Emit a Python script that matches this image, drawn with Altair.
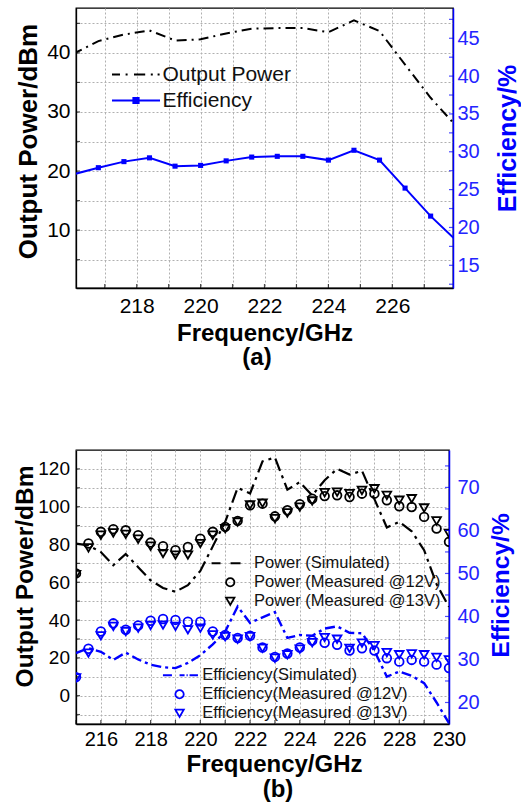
import altair as alt
import pandas as pd

FONT = "Liberation Sans"
BLUE = "#0000ff"
LBLUE = "#2424ff"
GRID = "#b0b0b0"

# ---------------- panel (a) data ----------------
a_freq = [216.0, 216.8, 217.6, 218.4, 219.2, 220.0, 220.8, 221.6, 222.4, 223.2,
          224.0, 224.8, 225.6, 226.4, 227.2, 228.0]
a_power = [39.8, 42.0, 43.1, 43.8, 42.1, 42.3, 43.3, 44.1, 44.2, 44.2,
           43.5, 45.5, 43.7, 38.0, 32.4, 27.6]
a_eff = [27.0, 27.9, 28.7, 29.2, 28.1, 28.2, 28.8, 29.3, 29.4, 29.4,
         28.9, 30.2, 28.9, 25.2, 21.5, 18.3]
a_series = ["Output Power", "Efficiency"]
a_xticks = [217, 218, 219, 220, 221, 222, 223, 224, 225, 226, 227]
a_yticks = [5, 10, 15, 20, 25, 30, 35, 40, 45]
a_rlabels = [15, 20, 25, 30, 35, 40, 45]
a_rticks = [12.5, 15, 17.5, 20, 22.5, 25, 27.5, 30, 32.5, 35, 37.5, 40, 42.5, 45, 47.5]

# ---------------- panel (b) data ----------------
b_freq = [215.0, 215.5, 216.0, 216.5, 217.0, 217.5, 218.0, 218.5, 219.0, 219.5,
          220.0, 220.5, 221.0, 221.5, 222.0, 222.5, 223.0, 223.5, 224.0, 224.5,
          225.0, 225.5, 226.0, 226.5, 227.0, 227.5, 228.0, 228.5, 229.0, 229.5, 230.0]
b_pow_sim = [80.5, 79.5, 76.0, 69.0, 75.0, 68.0, 61.0, 57.0, 55.0, 58.5,
             66.0, 79.0, 92.0, 110.0, 107.0, 124.0, 126.0, 109.0, 113.0, 106.0,
             114.0, 120.0, 117.0, 119.0, 104.0, 89.0, 92.0, 87.0, 77.0, 59.0, 47.0]
b_pow_12 = [64.7, 80.5, 86.7, 88.1, 87.5, 84.9, 81.0, 79.1, 77.0, 78.7,
            83.1, 86.7, 89.3, 92.5, 100.7, 101.6, 94.9, 98.1, 101.3, 104.2,
            105.6, 106.0, 105.1, 106.9, 106.9, 103.4, 100.2, 99.8, 94.6, 88.4, 81.4]
b_pow_13 = [64.0, 78.2, 84.9, 86.1, 85.4, 82.8, 79.1, 75.2, 74.4, 74.4,
            80.5, 84.9, 88.4, 91.9, 100.9, 101.9, 93.7, 96.7, 99.8, 103.0,
            107.4, 107.7, 106.9, 108.6, 109.5, 106.0, 103.4, 104.2, 99.3, 92.5, 85.8]
b_eff_sim = [31.5, 32.6, 31.8, 29.9, 31.6, 30.0, 28.8, 28.2, 28.0, 29.2,
             31.0, 33.5, 36.5, 42.3, 38.5, 39.8, 41.0, 35.0, 35.7, 35.5,
             37.2, 37.7, 36.2, 36.1, 32.0, 26.0, 27.2, 26.2, 24.5, 20.0, 15.2]
b_eff_12 = [25.9, 32.5, 36.5, 38.4, 36.9, 37.9, 39.0, 39.4, 39.2, 38.8,
            38.8, 36.5, 35.7, 35.0, 35.5, 32.8, 30.6, 31.4, 32.8, 34.4,
            33.9, 33.4, 32.1, 32.6, 32.1, 30.3, 29.5, 29.9, 29.5, 28.8, 28.0]
b_eff_13 = [25.7, 31.5, 35.5, 37.7, 36.5, 37.3, 37.9, 38.0, 37.7, 36.9,
            37.3, 35.7, 35.3, 34.7, 35.3, 32.6, 30.3, 31.1, 32.4, 33.9,
            35.1, 34.7, 32.6, 33.8, 33.2, 31.6, 31.1, 31.3, 31.1, 30.5, 29.9]
b_pow_names = ["Power (Simulated)", "Power (Measured @12V)", "Power (Measured @13V)"]
b_eff_names = ["Efficiency(Simulated)", "Efficiency(Measured @12V)", "Efficiency(Measured @13V)"]
b_xticks = [215, 216, 217, 218, 219, 220, 221, 222, 223, 224, 225, 226, 227, 228, 229, 230]
b_yticks = [-10, 0, 10, 20, 30, 40, 50, 60, 70, 80, 90, 100, 110, 120]
b_rlabels = [20, 30, 40, 50, 60, 70]
b_rticks = [20, 25, 30, 35, 40, 45, 50, 55, 60, 65, 70, 75]

# ---------------- layout constants ----------------
W_A, H_A = 377, 280
W_B, H_B = 373, 274
TICK = 4

# legend sample paths (unit = sqrt(size)/2 px)
A_POW_PATH = "M-6,0H-4M-2.6,0H-2.1M-0.5,0H2.3M3.7,0H4.2M5.4,0H5.9"
A_EFF_PATH = "M-6,0H6M-0.65,-0.65H0.65V0.65H-0.65Z"
B_POW_SIM_PATH = "M-4.47,0H-2.32M0.07,0H2.46"
B_EFF_SIM_PATH = "M-3.97,0H-1.82M0,0H1.2M1.67,0H1.95M2.39,0H4.4"


def xaxis(values, fs, lpad, tpad, title_x=None):
    kw = dict(values=values, labelExpr="datum.value % 2 === 0 ? datum.label : ''",
              title="Frequency/GHz", grid=True, gridColor=GRID, gridDash=[2, 2], gridWidth=1,
              ticks=False, tickSize=0, labelPadding=lpad, titlePadding=tpad,
              labelFontSize=fs, titleFontSize=24, titleFontWeight="bold",
              labelColor="black", titleColor="black", domainColor="black", domainWidth=1.3,
              labelFlush=False, labelOverlap=False)
    if title_x is not None:
        kw["titleX"] = title_x
    return alt.Axis(**kw)


# ================= panel (a) =================
df_a = pd.DataFrame({"freq": a_freq, "power": a_power, "eff": a_eff})
xa = dict(scale=alt.Scale(domain=[216.1, 227.9], nice=False, zero=False),
          axis=xaxis(a_xticks, 21, 7, 5))
ya_scale = alt.Scale(domain=[0.2, 47.6], nice=False, zero=False)
ya_axis = alt.Axis(values=a_yticks, labelExpr="datum.value % 10 === 0 ? datum.label : ''",
                   title="Output Power/dBm", grid=True, gridColor=GRID, gridDash=[2, 2],
                   ticks=False, tickSize=0, labelPadding=6, titlePadding=5,
                   labelFontSize=21, titleFontSize=26, titleFontWeight="bold", titleY=133,
                   labelColor="black", titleColor="black", domainColor="black", domainWidth=1.3,
                   labelFlush=False, labelOverlap=False)
yra_scale = alt.Scale(domain=[12, 49], nice=False, zero=False)
yra_axis = alt.Axis(orient="right", values=a_rlabels, title="Efficiency/%", grid=False,
                    ticks=False, tickSize=0, labelPadding=4, titlePadding=16,
                    titleAngle=270, titleBaseline="top", titleY=130,
                    labelFontSize=20, titleFontSize=25, titleFontWeight="bold",
                    labelColor=LBLUE, titleColor=BLUE, domainColor=BLUE, domainWidth=1.5,
                    labelFlush=False, labelOverlap=False)

pow_a = alt.Chart(df_a).mark_line(color="black", strokeWidth=2, strokeDash=[10, 5, 2, 5], clip=True).encode(
    x=alt.X("freq:Q", **xa), y=alt.Y("power:Q", scale=ya_scale, axis=ya_axis))
tick_a_bottom = alt.Chart(pd.DataFrame({"freq": a_xticks})).mark_tick(
    color="black", thickness=1.2, size=TICK).encode(
    x=alt.X("freq:Q", **xa), y=alt.value(H_A - TICK / 2))
tick_a_left = alt.Chart(pd.DataFrame({"power": a_yticks})).mark_tick(
    color="black", thickness=1.2, size=TICK).encode(
    y=alt.Y("power:Q", scale=ya_scale, axis=ya_axis), x=alt.value(TICK / 2))

eff_a = alt.Chart(df_a).mark_line(color=BLUE, strokeWidth=2, clip=True).encode(
    x=alt.X("freq:Q", **xa), y=alt.Y("eff:Q", scale=yra_scale, axis=yra_axis))
eff_a_pts = alt.Chart(df_a).mark_square(color=BLUE, size=26, filled=True, opacity=1, clip=True).encode(
    x=alt.X("freq:Q", **xa), y=alt.Y("eff:Q", scale=yra_scale, axis=yra_axis))
tick_a_right = alt.Chart(pd.DataFrame({"eff": a_rticks})).mark_tick(
    color=BLUE, thickness=1.2, size=TICK).encode(
    y=alt.Y("eff:Q", scale=yra_scale, axis=yra_axis), x=alt.value(W_A - TICK / 2))

leg_a = alt.Legend(title=None, orient="none", legendX=49.5, legendY=56, padding=0,
                   symbolSize=64, symbolStrokeWidth=2, labelFontSize=21, labelFont=FONT,
                   labelColor="#111", labelOffset=16, rowPadding=4, labelLimit=400)
legend_a = alt.Chart(pd.DataFrame({"series": a_series})).transform_filter("false").mark_point(
    filled=True, size=64, strokeWidth=2, opacity=1).encode(
    shape=alt.Shape("series:N", scale=alt.Scale(domain=a_series, range=[A_POW_PATH, A_EFF_PATH]), legend=leg_a),
    fill=alt.Fill("series:N", scale=alt.Scale(domain=a_series, range=["black", BLUE]), legend=leg_a),
    stroke=alt.Stroke("series:N", scale=alt.Scale(domain=a_series, range=["black", BLUE]), legend=leg_a))

panel_a = alt.layer(
    alt.layer(pow_a, tick_a_bottom, tick_a_left),
    alt.layer(eff_a, eff_a_pts, tick_a_right, legend_a),
).resolve_scale(y="independent").properties(
    width=W_A, height=H_A,
    title=alt.Title("(a)", orient="bottom", fontSize=24, fontWeight="bold", offset=1,
                    frame="group", anchor="middle", dx=-7.5, color="black", font=FONT))

# ================= panel (b) =================
df_bs = pd.DataFrame({"freq": b_freq, "psim": b_pow_sim, "esim": b_eff_sim})
df_bp = pd.DataFrame({"freq": b_freq * 2, "val": b_pow_12 + b_pow_13,
                      "series": [b_pow_names[1]] * len(b_freq) + [b_pow_names[2]] * len(b_freq)})
df_be = pd.DataFrame({"freq": b_freq * 2, "val": b_eff_12 + b_eff_13,
                      "series": [b_eff_names[1]] * len(b_freq) + [b_eff_names[2]] * len(b_freq)})

xb = dict(scale=alt.Scale(domain=[215, 230], nice=False, zero=False),
          axis=xaxis(b_xticks, 20, 5, 3, title_x=198))
yb_scale = alt.Scale(domain=[-15, 130], nice=False, zero=False)
yb_axis = alt.Axis(values=b_yticks,
                   labelExpr="(datum.value % 20 === 0 && datum.value >= 0) ? datum.label : ''",
                   title="Output Power/dBm", grid=True, gridColor=GRID, gridDash=[2, 2],
                   ticks=False, tickSize=0, labelPadding=6.5, titlePadding=0,
                   labelFontSize=19, titleFontSize=24.5, titleFontWeight="bold", titleY=126,
                   labelColor="black", titleColor="black", domainColor="black", domainWidth=1.3,
                   labelFlush=False, labelOverlap=False)
yrb_scale = alt.Scale(domain=[15, 78.7], nice=False, zero=False)
yrb_axis = alt.Axis(orient="right", values=b_rlabels, title="Efficiency/%", grid=False,
                    ticks=False, tickSize=0, labelPadding=8, titlePadding=10,
                    titleAngle=270, titleBaseline="top", titleY=135,
                    labelFontSize=20, titleFontSize=24.5, titleFontWeight="bold",
                    labelColor=LBLUE, titleColor=BLUE, domainColor=BLUE, domainWidth=1.5,
                    labelFlush=False, labelOverlap=False)

leg_b1 = alt.Legend(title=None, orient="none", legendX=146, legendY=105, padding=0,
                    symbolSize=70, symbolStrokeWidth=1.8, labelFontSize=16.5, labelFont=FONT,
                    labelColor="#111", labelOffset=15.5, rowPadding=2, labelLimit=400)
leg_b2 = alt.Legend(title=None, orient="none", legendX=95.3, legendY=217, padding=0,
                    symbolSize=70, symbolStrokeWidth=1.8, labelFontSize=16.5, labelFont=FONT,
                    labelColor="#111", labelOffset=14.4, rowPadding=2, labelLimit=400)

psim_b = alt.Chart(df_bs).mark_line(color="black", strokeWidth=2.2, strokeDash=[13, 5, 3, 5], clip=True).encode(
    x=alt.X("freq:Q", **xb), y=alt.Y("psim:Q", scale=yb_scale, axis=yb_axis))
ppts_b = alt.Chart(df_bp).mark_point(filled=False, size=75, strokeWidth=1.8, opacity=1, clip=True).encode(
    x=alt.X("freq:Q", **xb), y=alt.Y("val:Q", scale=yb_scale, axis=yb_axis),
    shape=alt.Shape("series:N", scale=alt.Scale(domain=b_pow_names, range=[B_POW_SIM_PATH, "circle", "triangle-down"]), legend=leg_b1),
    stroke=alt.Stroke("series:N", scale=alt.Scale(domain=b_pow_names, range=["black", "black", "black"]), legend=leg_b1))
tick_b_bottom = alt.Chart(pd.DataFrame({"freq": b_xticks})).mark_tick(
    color="black", thickness=1.2, size=TICK).encode(
    x=alt.X("freq:Q", **xb), y=alt.value(H_B - TICK / 2))
tick_b_left = alt.Chart(pd.DataFrame({"psim": b_yticks})).mark_tick(
    color="black", thickness=1.2, size=TICK).encode(
    y=alt.Y("psim:Q", scale=yb_scale, axis=yb_axis), x=alt.value(TICK / 2))

esim_b = alt.Chart(df_bs).mark_line(color=BLUE, strokeWidth=2.4, strokeDash=[10, 4, 3, 4], clip=True).encode(
    x=alt.X("freq:Q", **xb), y=alt.Y("esim:Q", scale=yrb_scale, axis=yrb_axis))
epts_b = alt.Chart(df_be).mark_point(filled=False, size=75, strokeWidth=1.8, opacity=1, clip=True).encode(
    x=alt.X("freq:Q", **xb), y=alt.Y("val:Q", scale=yrb_scale, axis=yrb_axis),
    shape=alt.Shape("series:N", scale=alt.Scale(domain=b_eff_names, range=[B_EFF_SIM_PATH, "circle", "triangle-down"]), legend=leg_b2),
    stroke=alt.Stroke("series:N", scale=alt.Scale(domain=b_eff_names, range=[BLUE, BLUE, BLUE]), legend=leg_b2))
tick_b_right = alt.Chart(pd.DataFrame({"esim": b_rticks})).mark_tick(
    color=BLUE, thickness=1.2, size=TICK).encode(
    y=alt.Y("esim:Q", scale=yrb_scale, axis=yrb_axis), x=alt.value(W_B - TICK / 2))

panel_b = alt.layer(
    alt.layer(psim_b, ppts_b, tick_b_bottom, tick_b_left),
    alt.layer(esim_b, epts_b, tick_b_right),
).resolve_scale(y="independent", shape="independent", stroke="independent").properties(
    width=W_B, height=H_B,
    title=alt.Title("(b)", orient="bottom", fontSize=24, fontWeight="bold", offset=2,
                    frame="group", anchor="middle", dx=15.5, color="black", font=FONT))

chart = alt.vconcat(panel_a, panel_b, spacing=78).properties(
    padding={"left": 12, "top": 7, "right": 0, "bottom": 0}
).configure(font=FONT).configure_view(stroke="black", strokeWidth=1.3).configure_axis(
    labelFont=FONT, titleFont=FONT).configure_legend(labelFont=FONT).configure_title(font=FONT)

chart.save("out.html", embed_options={"renderer": "svg", "actions": False})
